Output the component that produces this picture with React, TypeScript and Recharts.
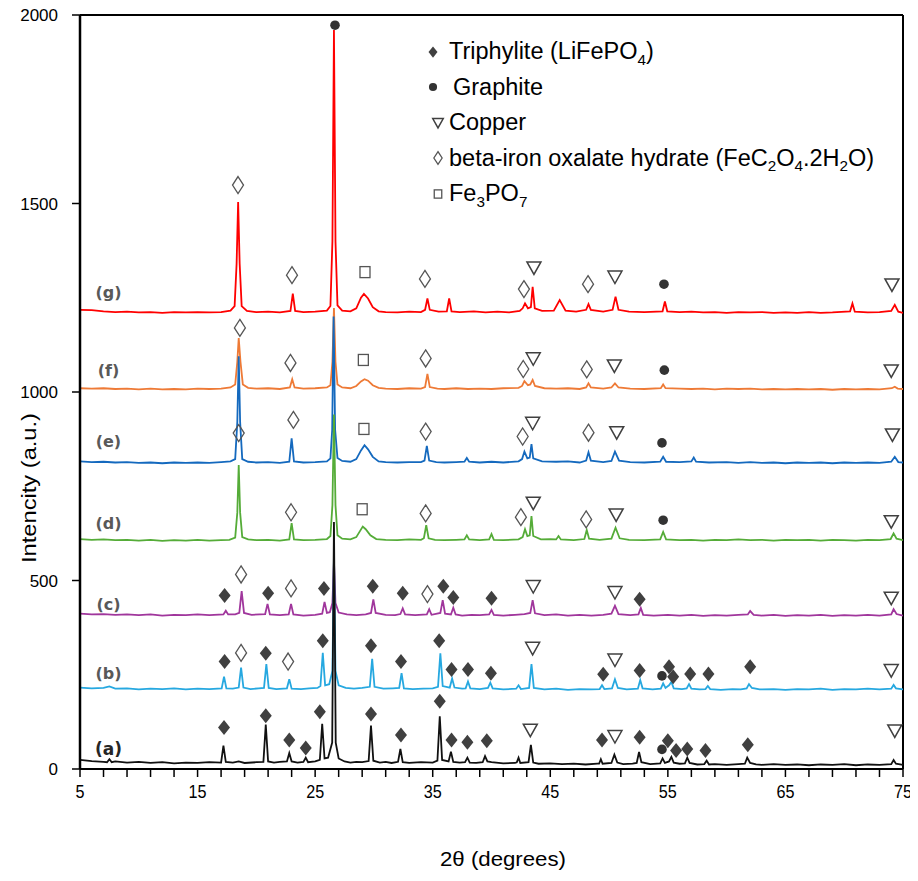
import React from 'react';
import { ComposedChart, Line, Scatter, XAxis, YAxis, ReferenceLine, Legend } from 'recharts';

type P = [number, number];
type M = [string, number, number];

const xTicks = [5, 7, 9, 11, 13, 15, 17, 19, 21, 23, 25, 27, 29, 31, 33, 35, 37, 39, 41, 43, 45, 47, 49, 51, 53, 55, 57, 59, 61, 63, 65, 67, 69, 71, 73, 75];
const xTickLabels = [5, 15, 25, 35, 45, 55, 65, 75];
const yTicks = [0, 500, 1000, 1500, 2000];

const seriesA: P[] = [[5,24],[6,21],[7,19],[7.3,18],[7.5,26],[7.7,18],[8,20],[9,17],[10,19],[11,16],[12,18],[13,15],[14,17],[15,16],[16,18],[17,17],[17.2,62],[17.4,19],[18,17],[18.5,20],[19,16],[20,18],[20.6,19],[20.8,118],[21.0,20],[21.5,17],[22,19],[22.6,20],[22.8,42],[23.0,20],[23.5,17],[24.0,19],[24.2,30],[24.4,18],[25.0,20],[25.4,24],[25.6,120],[25.8,28],[26.1,30],[26.45,70],[26.6,655],[26.75,70],[27.0,28],[27.5,20],[28,17],[28.5,19],[29.0,18],[29.55,21],[29.75,115],[29.95,22],[30.5,17],[31,19],[31.5,16],[32.05,19],[32.25,53],[32.45,18],[33,16],[34,18],[35,17],[35.4,22],[35.6,140],[35.8,24],[36.35,20],[36.55,46],[36.75,19],[37.3,17],[37.75,18],[37.95,30],[38.15,17],[38.7,16],[39.25,18],[39.45,34],[39.65,20],[40,18],[41,15],[42,16],[42.15,18],[42.3,30],[42.45,16],[43.15,18],[43.35,64],[43.55,17],[44,14],[45,15],[46,13],[47,14],[48,12],[49,14],[49.15,14],[49.3,26],[49.45,14],[50.2,16],[50.45,38],[50.7,17],[51.2,13],[52,14],[52.35,16],[52.55,45],[52.75,18],[53.5,13],[54.35,15],[54.55,28],[54.75,16],[55.1,20],[55.3,32],[55.5,17],[56,14],[56.45,15],[56.65,30],[56.85,16],[57.5,12],[58.1,13],[58.3,22],[58.5,12],[59,13],[60,11],[61,13],[61.55,14],[61.75,30],[62.0,16],[62.5,12],[63,11],[64,13],[65,11],[66,12],[67,10],[68,12],[69,11],[70,13],[71,10],[72,12],[73,11],[74.0,13],[74.2,24],[74.4,14],[75,11]];

const seriesB: P[] = [[5,216],[6,214],[7,215],[7.5,219],[8,213],[9,214],[10,211],[11,213],[12,212],[13,214],[14,211],[15,213],[16,212],[17.05,214],[17.25,245],[17.45,214],[18.0,213],[18.5,216],[18.7,269],[18.9,216],[19.5,212],[20.2,214],[20.65,215],[20.85,278],[21.05,215],[21.7,212],[22.6,214],[22.8,238],[23.0,213],[23.8,212],[24.5,214],[25.2,215],[25.45,220],[25.65,308],[25.85,222],[26.2,225],[26.47,260],[26.6,570],[26.73,260],[27.0,222],[27.6,215],[28.3,213],[29.0,215],[29.65,218],[29.85,292],[30.05,218],[30.8,213],[31.6,214],[32.15,215],[32.35,254],[32.55,214],[33.3,212],[34.2,213],[35.0,214],[35.45,218],[35.65,307],[35.85,220],[36.45,216],[36.65,240],[36.85,216],[37.5,213],[37.8,214],[38.0,232],[38.2,214],[39.0,212],[39.7,215],[39.9,229],[40.1,214],[41,211],[42.1,213],[42.3,222],[42.5,212],[43.2,215],[43.4,278],[43.6,215],[44.5,211],[45.5,213],[46.5,210],[47.5,212],[48.5,211],[49.2,212],[49.4,222],[49.6,212],[50.25,214],[50.5,238],[50.75,215],[51.5,211],[52.45,213],[52.65,236],[52.85,214],[53.7,211],[54.4,213],[54.6,227],[54.8,215],[55.1,222],[55.3,231],[55.5,214],[56.2,212],[56.6,214],[56.8,225],[57.0,213],[57.7,211],[58.2,212],[58.4,220],[58.6,212],[59.5,210],[60.5,212],[61.2,211],[61.7,214],[61.9,225],[62.15,215],[62.8,211],[64,212],[65,210],[66,212],[67,211],[68,213],[69,210],[70,212],[71,211],[72,213],[73,211],[74.0,213],[74.2,223],[74.4,214],[75,211]];

const seriesC: P[] = [[5,412],[6,410],[7,411],[8,409],[9,410],[10,408],[11,410],[12,407],[13,409],[14,408],[15,410],[16,408],[17.2,410],[17.4,420],[17.6,410],[18.2,410],[18.55,414],[18.75,472],[18.95,414],[19.6,409],[20.75,411],[20.95,438],[21.15,410],[22.0,408],[22.75,410],[22.95,438],[23.15,410],[24,407],[25.0,409],[25.6,412],[25.8,443],[26.0,414],[26.25,416],[26.47,440],[26.6,550],[26.73,440],[27.0,415],[27.7,410],[28.5,408],[29.3,410],[29.75,414],[29.95,450],[30.15,414],[31,409],[31.8,408],[32.25,411],[32.45,426],[32.65,410],[33.5,408],[34.5,410],[34.7,424],[34.9,409],[35.65,414],[35.85,448],[36.05,412],[36.55,410],[36.75,428],[36.95,410],[37.5,407],[38.3,409],[39.0,408],[39.8,410],[40.0,422],[40.2,409],[41,407],[42,409],[42.8,411],[43.3,414],[43.5,448],[43.7,413],[44.5,408],[45.5,410],[46.5,407],[47.5,409],[48.5,407],[49.5,409],[50.2,412],[50.5,433],[50.8,411],[51.8,408],[52.5,410],[52.7,427],[52.9,409],[53.8,407],[55,409],[56,407],[57,409],[58,406],[59,408],[60,407],[61,409],[61.8,410],[62.0,419],[62.3,409],[63,407],[64,409],[65,406],[66,408],[67,407],[68,409],[69,406],[70,408],[71,407],[72,409],[73,407],[74.0,410],[74.2,424],[74.45,411],[75,407]];

const seriesD: P[] = [[5,610],[6,608],[7,609],[8,607],[9,608],[10,606],[11,608],[12,605],[13,607],[14,606],[15,608],[16,606],[17,607],[17.7,608],[18.2,614],[18.38,680],[18.5,806],[18.62,680],[18.8,615],[19.3,609],[20,607],[21,608],[22,606],[22.8,609],[23.0,652],[23.2,609],[24,607],[25,608],[26.0,610],[26.3,618],[26.47,700],[26.6,940],[26.73,700],[26.9,620],[27.3,611],[28.0,609],[28.5,615],[28.85,633],[29.05,643],[29.3,636],[29.7,620],[30.2,610],[31,608],[32,607],[33,609],[34.0,608],[34.25,612],[34.45,647],[34.65,612],[35.2,608],[36,607],[37,608],[37.7,609],[37.9,620],[38.1,609],[39,607],[39.8,609],[40.0,623],[40.2,608],[41,607],[42.3,609],[42.65,615],[42.85,636],[43.05,618],[43.25,620],[43.4,671],[43.55,618],[44.2,609],[45.0,610],[45.5,609],[45.7,618],[45.9,609],[47.0,607],[47.9,610],[48.1,634],[48.3,611],[49.2,608],[50.2,611],[50.55,640],[50.9,612],[51.7,608],[53,607],[54.35,609],[54.6,629],[54.85,609],[56,607],[57,608],[58,606],[59,608],[60,607],[61,609],[62,607],[63,608],[64,606],[65,608],[66,607],[67,608],[68,606],[69,608],[70,607],[71,606],[72,608],[73,607],[73.95,610],[74.2,625],[74.45,611],[75,607]];

const seriesE: P[] = [[5,816],[6,814],[7,815],[8,813],[9,814],[10,812],[11,813],[12,811],[13,813],[14,812],[15,813],[16,812],[17,814],[17.8,816],[18.2,822],[18.38,920],[18.5,1095],[18.62,920],[18.8,822],[19.3,815],[20,813],[21,814],[22,812],[22.8,815],[23.0,877],[23.2,816],[24,813],[25,814],[26.0,816],[26.3,824],[26.45,900],[26.57,1200],[26.7,900],[26.9,825],[27.3,817],[28.0,815],[28.5,822],[28.9,845],[29.2,859],[29.5,848],[29.9,828],[30.4,816],[31,814],[32,813],[33,814],[34.0,814],[34.3,818],[34.5,857],[34.7,818],[35.3,814],[36,813],[37,814],[37.7,815],[37.9,825],[38.1,815],[39,813],[40,815],[41,813],[42.3,816],[42.6,822],[42.8,842],[43.05,824],[43.25,826],[43.4,862],[43.55,824],[44.3,816],[45.5,815],[46.5,816],[47.5,813],[48.05,818],[48.25,840],[48.45,818],[49.5,814],[50.2,817],[50.5,842],[50.85,818],[51.8,814],[53,813],[54.35,815],[54.6,828],[54.85,815],[56,814],[57.0,816],[57.2,826],[57.4,815],[58.5,813],[60,814],[61,812],[62,814],[63,812],[64,813],[65,811],[66,813],[67,812],[68,813],[69,811],[70,813],[71,812],[72,813],[73,812],[74.0,815],[74.3,828],[74.6,814],[75,813]];

const seriesF: P[] = [[5,1010],[6,1009],[7,1010],[8,1008],[9,1009],[10,1007],[11,1009],[12,1007],[13,1008],[14,1007],[15,1009],[16,1008],[17,1009],[17.8,1012],[18.2,1020],[18.38,1080],[18.5,1143],[18.65,1080],[18.85,1020],[19.3,1011],[20,1009],[21,1010],[22,1008],[22.85,1012],[23.05,1034],[23.25,1012],[24,1009],[25,1010],[26.0,1012],[26.3,1018],[26.47,1080],[26.6,1223],[26.73,1080],[26.9,1020],[27.3,1012],[28.0,1010],[28.5,1016],[28.9,1028],[29.2,1034],[29.5,1030],[29.9,1018],[30.4,1011],[31,1009],[32,1008],[33,1010],[34.0,1009],[34.35,1013],[34.55,1048],[34.75,1013],[35.4,1009],[36,1008],[37,1010],[38,1008],[39,1009],[40,1008],[41,1010],[42.3,1011],[42.6,1016],[42.8,1029],[43.1,1018],[43.3,1020],[43.5,1032],[43.7,1016],[44.5,1010],[45.5,1009],[46.5,1010],[47.5,1008],[48.05,1012],[48.25,1023],[48.45,1012],[49.5,1009],[50.2,1012],[50.5,1023],[50.8,1012],[51.8,1009],[53,1008],[54.4,1010],[54.6,1020],[54.8,1010],[56,1009],[57,1008],[58,1009],[59,1007],[60,1009],[61,1008],[62,1009],[63,1007],[64,1008],[65,1007],[66,1008],[67,1007],[68,1008],[69,1006],[70,1008],[71,1007],[72,1008],[73,1007],[74.05,1010],[74.3,1014],[74.55,1009],[75,1008]];

const seriesG: P[] = [[5,1218],[6,1217],[7,1214],[8,1212],[9,1213],[10,1211],[11,1212],[12,1210],[13,1212],[14,1211],[15,1212],[16,1211],[17,1212],[17.8,1216],[18.15,1228],[18.32,1340],[18.45,1504],[18.58,1340],[18.75,1228],[19.2,1215],[20,1212],[21,1213],[22,1211],[22.9,1215],[23.1,1261],[23.3,1215],[24,1212],[25,1213],[26.0,1216],[26.3,1228],[26.47,1400],[26.6,1960],[26.73,1400],[26.9,1230],[27.3,1216],[28.0,1214],[28.5,1222],[28.9,1250],[29.15,1260],[29.5,1248],[29.9,1225],[30.4,1214],[31,1212],[32,1211],[33,1213],[34.0,1212],[34.35,1218],[34.55,1248],[34.75,1218],[35.5,1213],[36.2,1214],[36.4,1248],[36.6,1214],[37.3,1212],[38.5,1214],[39.5,1211],[40.5,1213],[41.5,1211],[42.4,1215],[42.65,1222],[42.85,1235],[43.1,1222],[43.35,1225],[43.5,1279],[43.68,1222],[44.3,1215],[45.3,1216],[45.8,1244],[46.3,1216],[47.2,1213],[48.05,1218],[48.25,1233],[48.45,1218],[49.5,1213],[50.3,1218],[50.55,1253],[50.8,1218],[51.7,1213],[53,1212],[54.55,1214],[54.75,1240],[54.95,1214],[56,1212],[57,1213],[58,1211],[59,1212],[60,1210],[61,1212],[62,1211],[63,1212],[64,1210],[65,1211],[66,1210],[67,1212],[68,1210],[69,1211],[70.5,1214],[70.7,1235],[70.9,1213],[72,1211],[73,1212],[74.0,1215],[74.3,1231],[74.6,1213],[75,1210]];

// phase markers: [phase, 2theta, intensity]
const markersA: M[] = [['tri',17.25,110],['tri',20.8,141],['tri',22.8,77],['tri',24.2,56],['tri',25.4,152],['tri',29.75,146],['tri',32.3,90],['tri',35.6,180],['tri',36.6,77],['tri',37.95,71],['tri',39.6,75],['cu',43.3,103],['tri',49.4,77],['cu',50.5,86],['tri',52.6,84],['gra',54.5,52],['tri',55.0,75],['tri',55.7,49],['tri',56.65,53],['tri',58.2,49],['tri',61.8,64],['cu',74.3,101]];
const markersB: M[] = [['tri',17.3,285],['ox',18.7,308],['tri',20.8,307],['ox',22.7,285],['tri',25.65,340],['tri',29.75,327],['tri',32.3,285],['tri',35.55,340],['tri',36.6,264],['tri',38.0,264],['tri',39.95,254],['cu',43.5,320],['tri',49.5,251],['cu',50.5,289],['tri',52.6,261],['gra',54.5,247],['tri',55.1,271],['tri',55.45,245],['tri',56.9,252],['tri',58.45,252],['tri',62.0,271],['cu',74.0,261]];
const markersC: M[] = [['tri',17.3,460],['ox',18.7,516],['tri',21.0,466],['ox',22.95,479],['tri',25.75,479],['tri',29.9,485],['tri',32.45,466],['ox',34.55,464],['tri',35.9,485],['tri',36.75,455],['tri',40.0,453],['cu',43.55,484],['cu',50.5,468],['tri',52.6,450],['cu',74.0,453]];
const markersD: M[] = [['ox',18.5,891],['ox',22.95,681],['fe',29.0,689],['ox',34.4,678],['ox',42.5,668],['cu',43.55,705],['ox',48.05,662],['cu',50.6,674],['gra',54.6,660],['cu',74.0,656]];
const markersE: M[] = [['ox',23.15,926],['fe',29.15,902],['ox',34.4,895],['ox',42.65,882],['cu',43.5,917],['ox',48.25,892],['cu',50.65,892],['gra',54.5,865],['cu',74.1,886]];
const markersF: M[] = [['ox',18.6,1170],['ox',22.9,1077],['fe',29.1,1085],['ox',34.4,1089],['ox',42.7,1061],['cu',43.55,1088],['ox',48.1,1060],['cu',50.45,1069],['gra',54.7,1058],['cu',74.0,1056]];
const markersG: M[] = [['ox',18.44,1549],['ox',23.03,1310],['gra',26.69,1973],['fe',29.24,1318],['ox',34.34,1300],['ox',42.76,1273],['cu',43.61,1329],['ox',48.21,1286],['cu',50.5,1305],['gra',54.67,1286],['cu',74.06,1284]];

const sampleLabels: [string, number, number][] = [['(a)',7.42,52],['(b)',7.42,254],['(c)',7.42,437],['(d)',7.42,651],['(e)',7.42,868],['(f)',7.42,1056],['(g)',7.42,1263]];

const legendEntries: [string, string][] = [
  ['tri', 'Triphylite (LiFePO_4)'],
  ['gra', 'Graphite'],
  ['cu', 'Copper'],
  ['ox', 'beta-iron oxalate hydrate (FeC_2O_4.2H_2O)'],
  ['fe', 'Fe_3PO_7'],
];

const seriesList: [string, P[], string][] = [
  ['g', seriesG, '#FF0000'],
  ['f', seriesF, '#EE7A36'],
  ['e', seriesE, '#1469BE'],
  ['d', seriesD, '#55AC38'],
  ['c', seriesC, '#A0369C'],
  ['b', seriesB, '#26A8E0'],
  ['a', seriesA, '#111111'],
];

const baseFont = "'Liberation Sans', Arial, sans-serif";

const markerData = [...markersA, ...markersB, ...markersC, ...markersD, ...markersE, ...markersF, ...markersG].map(([kind, x, y]) => ({ kind, x, y }));
const labelData = sampleLabels.map(([text, x, y]) => ({ text, x, y }));

function symbol(kind: string, cx: number, cy: number, s: number) {
  if (kind === 'tri') {
    return <polygon points={`${cx},${cy - 7.5 * s} ${cx + 6 * s},${cy} ${cx},${cy + 7.5 * s} ${cx - 6 * s},${cy}`} fill="#404040" />;
  }
  if (kind === 'ox') {
    return <polygon points={`${cx},${cy - 8.5 * s} ${cx + 5.5 * s},${cy} ${cx},${cy + 8.5 * s} ${cx - 5.5 * s},${cy}`} fill="none" stroke="#555" strokeWidth={1.3} />;
  }
  if (kind === 'cu') {
    return <polygon points={`${cx - 7 * s},${cy - 6 * s} ${cx + 7 * s},${cy - 6 * s} ${cx},${cy + 6.5 * s}`} fill="none" stroke="#404040" strokeWidth={1.5} />;
  }
  if (kind === 'fe') {
    return <rect x={cx - 5 * s} y={cy - 5.5 * s} width={10 * s} height={11 * s} fill="none" stroke="#555" strokeWidth={1.3} />;
  }
  return <circle cx={cx} cy={cy} r={4.8 * s} fill="#333" />;
}

const MarkerShape = (props: any) => {
  const { cx, cy } = props;
  const kind = props.payload ? props.payload.kind : props.kind;
  if (cx == null || cy == null) return <g />;
  return symbol(kind, cx, cy, 1);
};

const LabelShape = (props: any) => {
  const { cx, cy } = props;
  const text = props.payload ? props.payload.text : props.text;
  const isA = text === '(a)';
  return (
    <text x={cx} y={cy} textAnchor="middle" dominantBaseline="central" fontFamily="'DejaVu Sans', sans-serif" fontWeight="bold" fontSize={isA ? 17 : 16} fill={isA ? '#262626' : '#595959'}>
      {text}
    </text>
  );
};

const XTick = (props: any) => {
  const { x, y, payload } = props;
  const v = payload.value;
  const major = xTickLabels.includes(v);
  const s = String(v);
  return (
    <g>
      <line x1={x} x2={x} y1={y} y2={y + 8} stroke="#000" strokeWidth={1.5} />
      {major && (
        <text x={x} y={y + 22} textAnchor="middle" dominantBaseline="central" fontFamily={baseFont} fontSize={19} fill="#000" textLength={s.length * 9} lengthAdjust="spacingAndGlyphs">
          {s}
        </text>
      )}
    </g>
  );
};

const XTitle = (props: any) => {
  const vb = props.viewBox || { x: 80, y: 769, width: 823, height: 105 };
  return (
    <text x={503} y={vb.y + 90} textAnchor="middle" dominantBaseline="central" fontFamily={baseFont} fontSize={20} fill="#000" textLength={126} lengthAdjust="spacingAndGlyphs">
      2θ (degrees)
    </text>
  );
};

const YTitle = () => (
  <text x={0} y={0} transform="translate(29,488) rotate(-90)" textAnchor="middle" dominantBaseline="central" fontFamily={baseFont} fontSize={20} fill="#000" textLength={150} lengthAdjust="spacingAndGlyphs">
    Intencity (a.u.)
  </text>
);

function renderRich(text: string) {
  const parts = text.split(/_(\d)/);
  return parts.map((p, i) =>
    i % 2 === 1 ? (
      <span key={i} style={{ fontSize: '0.65em', position: 'relative', top: '0.35em' }}>{p}</span>
    ) : (
      <span key={i}>{p}</span>
    )
  );
}

const LegendContent = () => (
  <div style={{ fontFamily: baseFont, fontSize: 23.5, color: '#000' }}>
    {legendEntries.map(([kind, text]) => {
      const cxs = kind === 'tri' || kind === 'gra' ? 11 : 16;
      return (
        <div key={kind} style={{ display: 'flex', alignItems: 'center', height: 35.5, whiteSpace: 'nowrap' }}>
          <svg width={kind === 'gra' ? 31 : 27} height={24} style={{ flex: 'none' }}>
            {symbol(kind, cxs, 12, kind === 'gra' ? 0.85 : 0.75)}
          </svg>
          <span>{renderRich(text)}</span>
        </div>
      );
    })}
  </div>
);

export default function App() {
  return (
    <div style={{ margin: -8, width: 918, height: 881 }}>
      <ComposedChart width={918} height={881} margin={{ top: 15, right: 15, left: 0, bottom: 7 }} style={{ fontFamily: baseFont }}>
        <XAxis
          dataKey="x"
          type="number"
          domain={[5, 75]}
          ticks={xTicks}
          interval={0}
          allowDataOverflow
          height={105}
          tickSize={0}
          tickMargin={0}
          tickLine={false}
          tick={<XTick />}
          axisLine={{ stroke: '#000', strokeWidth: 2 }}
          label={<XTitle />}
        />
        <YAxis
          dataKey="y"
          type="number"
          domain={[0, 2000]}
          ticks={yTicks}
          interval={0}
          allowDataOverflow
          width={80}
          tickSize={8}
          tickMargin={14}
          tick={{ fontSize: 17, fill: '#000', fontFamily: baseFont }}
          tickLine={{ stroke: '#000', strokeWidth: 1.5 }}
          axisLine={{ stroke: '#000', strokeWidth: 2.5 }}
          label={<YTitle />}
        />
        <ReferenceLine y={2000} stroke="#000" strokeWidth={2} />
        <ReferenceLine x={75} stroke="#000" strokeWidth={2} />
        {seriesList.map(([id, pts, color]) => (
          <Line
            key={id}
            data={pts.map(([x, y]) => ({ x, y }))}
            dataKey="y"
            type="linear"
            stroke={color}
            strokeWidth={1.8}
            dot={false}
            activeDot={false}
            isAnimationActive={false}
            legendType="none"
          />
        ))}
        <Scatter data={markerData} dataKey="y" shape={<MarkerShape />} isAnimationActive={false} legendType="none" />
        <Scatter data={labelData} dataKey="y" shape={<LabelShape />} isAnimationActive={false} legendType="none" />
        <Legend
          layout="horizontal"
          verticalAlign="middle"
          align="center"
          content={<LegendContent />}
          wrapperStyle={{ left: 422, top: 34, width: 490 }}
        />
      </ComposedChart>
    </div>
  );
}
